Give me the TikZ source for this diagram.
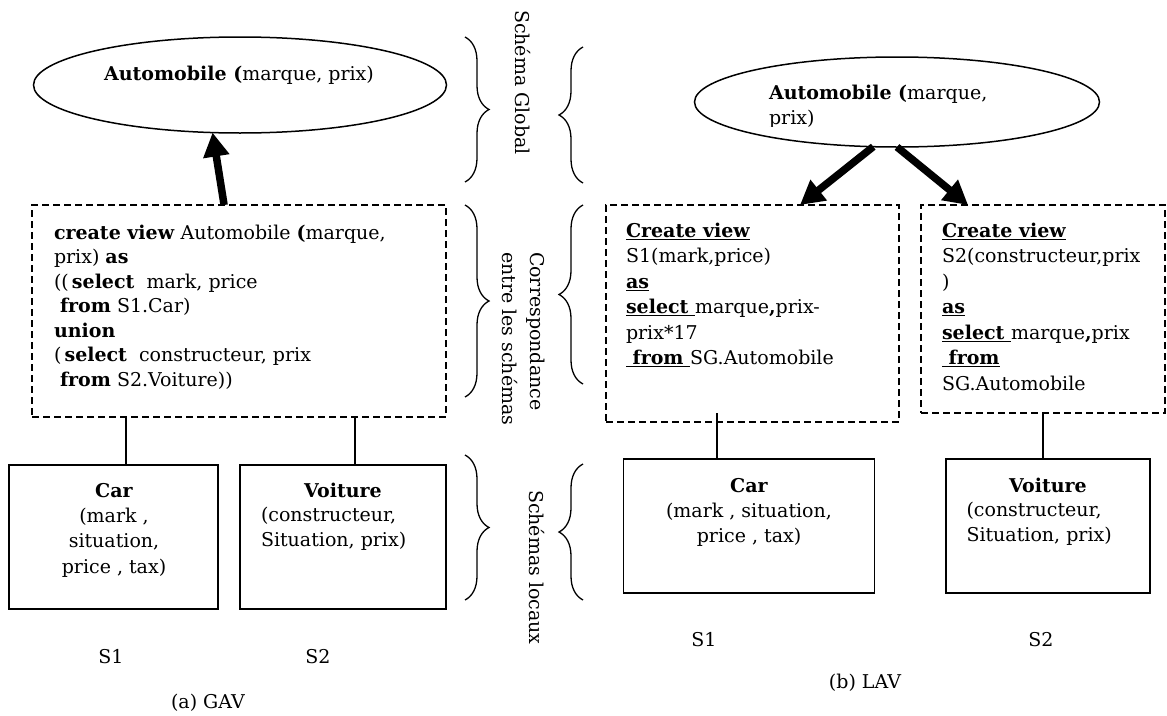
\documentclass[tikz,border=0pt]{standalone}
\usepackage{fontspec}
\setmainfont{DejaVu Serif}
\usetikzlibrary{shapes.geometric,arrows.meta,decorations.pathreplacing,calc}

% keyword: bold and underlined
\newcommand{\kw}[1]{\underline{\textbf{#1}}}

\begin{document}
\begin{tikzpicture}[x=1pt,y=-1pt,
  every node/.style={inner sep=0pt, outer sep=0pt, font=\fontsize{19}{24.5}\selectfont},
  schema/.style={draw, ellipse, line width=1.5pt},
  viewbox/.style={draw, dash pattern=on 7pt off 4pt, line width=1.5pt},
  srcbox/.style={draw, line width=1.8pt},
  conn/.style={line width=1.5pt},
  bigarrow/.style={line width=7.5pt, -{Triangle[length=24pt,width=25pt]}},
  grouping/.style={line width=1.3pt, decorate, decoration={brace, amplitude=24pt}},
  sidelabel/.style={rotate=-90, anchor=west, align=left},
  lines245/.style={align=left, font=\fontsize{19}{24.5}\selectfont},
  lines255/.style={align=left, font=\fontsize{19}{25.5}\selectfont},
]
\useasboundingbox (0,0) rectangle (1167,715);

% ---------------- (a) GAV ----------------
\node[schema, minimum width=413pt, minimum height=96pt] (gell) at (240,85) {};
\node[anchor=base] (gelltxt) at (239,80) {\textbf{Automobile (}marque, prix)};

\node[viewbox, minimum width=414pt, minimum height=212pt] (gview) at (239,311) {};
\node[lines245, anchor=north west] (gviewtxt) at (54,225) {%
\textbf{create view} Automobile \textbf{(}marque,\\
prix) \textbf{as}\\
((\,\textbf{select}\ \ mark, price\\
\ \textbf{from} S1.Car)\\
\textbf{union}\\
(\,\textbf{select}\ \ constructeur, prix\\
\ \textbf{from} S2.Voiture))};

\node[srcbox, minimum width=209pt, minimum height=144pt] (gcar) at (113.5,537) {};
\node[align=center, font=\fontsize{19}{25.3}\selectfont, anchor=north] (gcartxt) at (114,483)
  {\textbf{Car}\\(mark ,\\situation,\\price , tax)};
\node[srcbox, minimum width=206pt, minimum height=144pt] (gvoit) at (343,537) {};
\node[anchor=base] (gvoittitle) at (343,497) {\textbf{Voiture}};
\node[lines255, anchor=north west] (gvoittxt) at (261,507) {(constructeur,\\Situation, prix)};

\draw[bigarrow] ($(gview.north west)!0.464!(gview.north east)$) -- (gell.-120.5);
\draw[conn] ($(gcar.north |- gview.south)+(12.5,0)$) -- ($(gcar.north)+(12.5,0)$);
\draw[conn] ($(gvoit.north |- gview.south)+(12,0)$) -- ($(gvoit.north)+(12,0)$);

\node (gs1) at (111,657) {S1};
\node (gs2) at (318,657) {S2};
\node (gcap) at (208,703) {(a) GAV};

% ---------------- levels ----------------
\draw[grouping] (465,37) -- (465,182);
\draw[grouping] (465,205) -- (465,397);
\draw[grouping] (465,455) -- (465,600);
\draw[grouping] (583,183) -- (583,47);
\draw[grouping] (583,384) -- (583,205);
\draw[grouping] (583,600) -- (583,464);

\node[sidelabel] (lglobal) at (523,10) {Schéma Global};
\node[sidelabel, font=\fontsize{19}{28}\selectfont] (lcorr) at (524,252) {Correspondance\\entre les schémas};
\node[sidelabel] (llocal) at (537,490) {Schémas locaux};

% ---------------- (b) LAV ----------------
\node[schema, minimum width=405pt, minimum height=90pt] (lell) at (897,102) {};
\begin{scope}
  \clip (700,60) rectangle (1090,126);
  \node[lines255, anchor=north west] (lelltxt) at (769,85) {\textbf{Automobile (}marque,\\prix)};
\end{scope}

\node[viewbox, minimum width=293pt, minimum height=217pt] (lview1) at (752.5,313.5) {};
\node[lines255, anchor=north west] (lview1txt) at (626,223) {%
\kw{Create view}\\
S1(mark,price)\\
\kw{as}\\
\kw{select }marque\textbf{,}prix-\\
prix*17\\
\kw{ from }SG.Automobile};

\node[viewbox, minimum width=244pt, minimum height=208pt] (lview2) at (1043,309) {};
\node[lines255, anchor=north west] (lview2txt) at (942,223) {%
\kw{Create view}\\
S2(constructeur,prix\\
)\\
\kw{as}\\
\kw{select }marque\textbf{,}prix\\
\kw{ from}\\
SG.Automobile};

\node[srcbox, minimum width=251pt, minimum height=134pt] (lcar) at (749,526) {};
\node[align=center, font=\fontsize{19}{25}\selectfont, anchor=north] (lcartxt) at (749,478)
  {\textbf{Car}\\(mark , situation,\\price , tax)};
\node[srcbox, minimum width=204pt, minimum height=134pt] (lvoit) at (1048,526) {};
\node[anchor=base] (lvoittitle) at (1048,492) {\textbf{Voiture}};
\node[lines255, anchor=north west] (lvoittxt) at (966.5,502) {(constructeur,\\Situation, prix)};

\draw[bigarrow] (lell.-118.2) -- ($(lview1.north west)!0.662!(lview1.north east)$);
\draw[bigarrow] (lell.south) -- ($(lview2.north west)!0.193!(lview2.north east)$);
\draw[conn] ($(lcar.north |- lview1.south)+(-32,-9)$) -- ($(lcar.north)+(-32,0)$);
\draw[conn] ($(lvoit.north |- lview2.south)+(-5,0)$) -- ($(lvoit.north)+(-5,0)$);

\node (ls1) at (704,640) {S1};
\node (ls2) at (1041,640) {S2};
\node (lcap) at (865,683) {(b) LAV};
\end{tikzpicture}
\end{document}
